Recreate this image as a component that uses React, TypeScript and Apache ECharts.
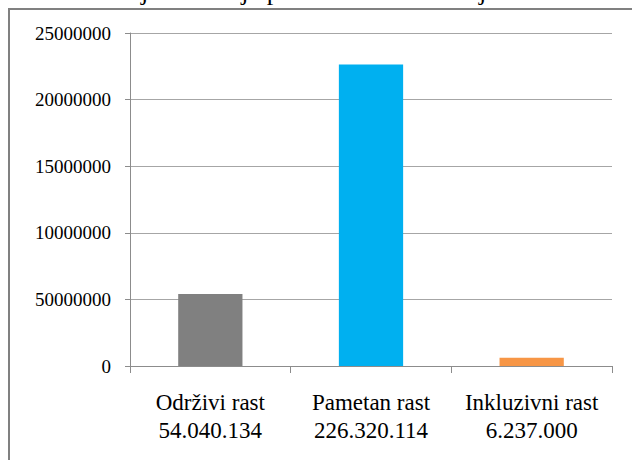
import React, { useEffect, useRef } from "react";
import * as echarts from "echarts";

const categories = ["Održivi rast", "Pametan rast", "Inkluzivni rast"];
const amountLabels = ["54.040.134", "226.320.114", "6.237.000"];
const values = [5404013, 22632011, 623700];
const barColors = ["#808080", "#00b0f0", "#f79646"];
const yTickLabels = ["0", "50000000", "10000000", "15000000", "20000000", "25000000"];
const titleText = "Koncentracija alokacija prema tematskim ciljevima investicijskog prioriteta regije";

export default function App() {
  const ref = useRef<HTMLDivElement>(null);
  useEffect(() => {
    if (!ref.current) return;
    const chart = echarts.init(ref.current, undefined, { renderer: "svg" });
    const font = "'Times New Roman', 'Liberation Serif', 'DejaVu Serif', serif";
    const common = { fontFamily: font, fontStyle: "normal", fontWeight: "normal" };
    chart.setOption({
      animation: false,
      backgroundColor: "#ffffff",
      textStyle: common,
      graphic: [
        {
          type: "text",
          left: 14,
          top: -22,
          style: { text: titleText, font: `normal normal 26px ${font}`, fill: "#000" },
          z: 10,
        },
        {
          type: "rect",
          shape: { x: 9, y: 9, width: 700, height: 600 },
          style: { fill: "none", stroke: "#808080", lineWidth: 2 },
          z: 10,
        },
      ],
      grid: { left: 130, right: 20, top: 33, bottom: 94, containLabel: false },
      xAxis: {
        type: "category",
        data: categories,
        boundaryGap: true,
        axisLine: { show: true, lineStyle: { color: "#8c8c8c", width: 1 } },
        axisTick: { show: true, length: 7, lineStyle: { color: "#8c8c8c" } },
        axisLabel: {
          ...common,
          color: "#000",
          fontSize: 23,
          lineHeight: 28,
          margin: 22,
          interval: 0,
          formatter: (v: string, i: number) => `${v}\n${amountLabels[i]}`,
        },
      },
      yAxis: {
        type: "value",
        min: 0,
        max: 25000000,
        interval: 5000000,
        axisLine: { show: true, lineStyle: { color: "#8c8c8c", width: 1 } },
        axisTick: { show: true, length: 5, lineStyle: { color: "#8c8c8c" } },
        splitLine: { show: true, lineStyle: { color: "#a6a6a6", width: 1 } },
        axisLabel: {
          ...common,
          color: "#000",
          fontSize: 19,
          margin: 19,
          formatter: (v: number) => yTickLabels[Math.round(v / 5000000)] ?? "",
        },
      },
      series: [
        {
          type: "bar",
          barWidth: "40%",
          data: values.map((v, i) => ({ value: v, itemStyle: { color: barColors[i] } })),
        },
      ],
    });
    return () => chart.dispose();
  }, []);
  return (
    <div
      ref={ref}
      style={{ position: "absolute", left: 0, top: 0, width: 632, height: 460, fontFamily: "serif" }}
    />
  );
}
